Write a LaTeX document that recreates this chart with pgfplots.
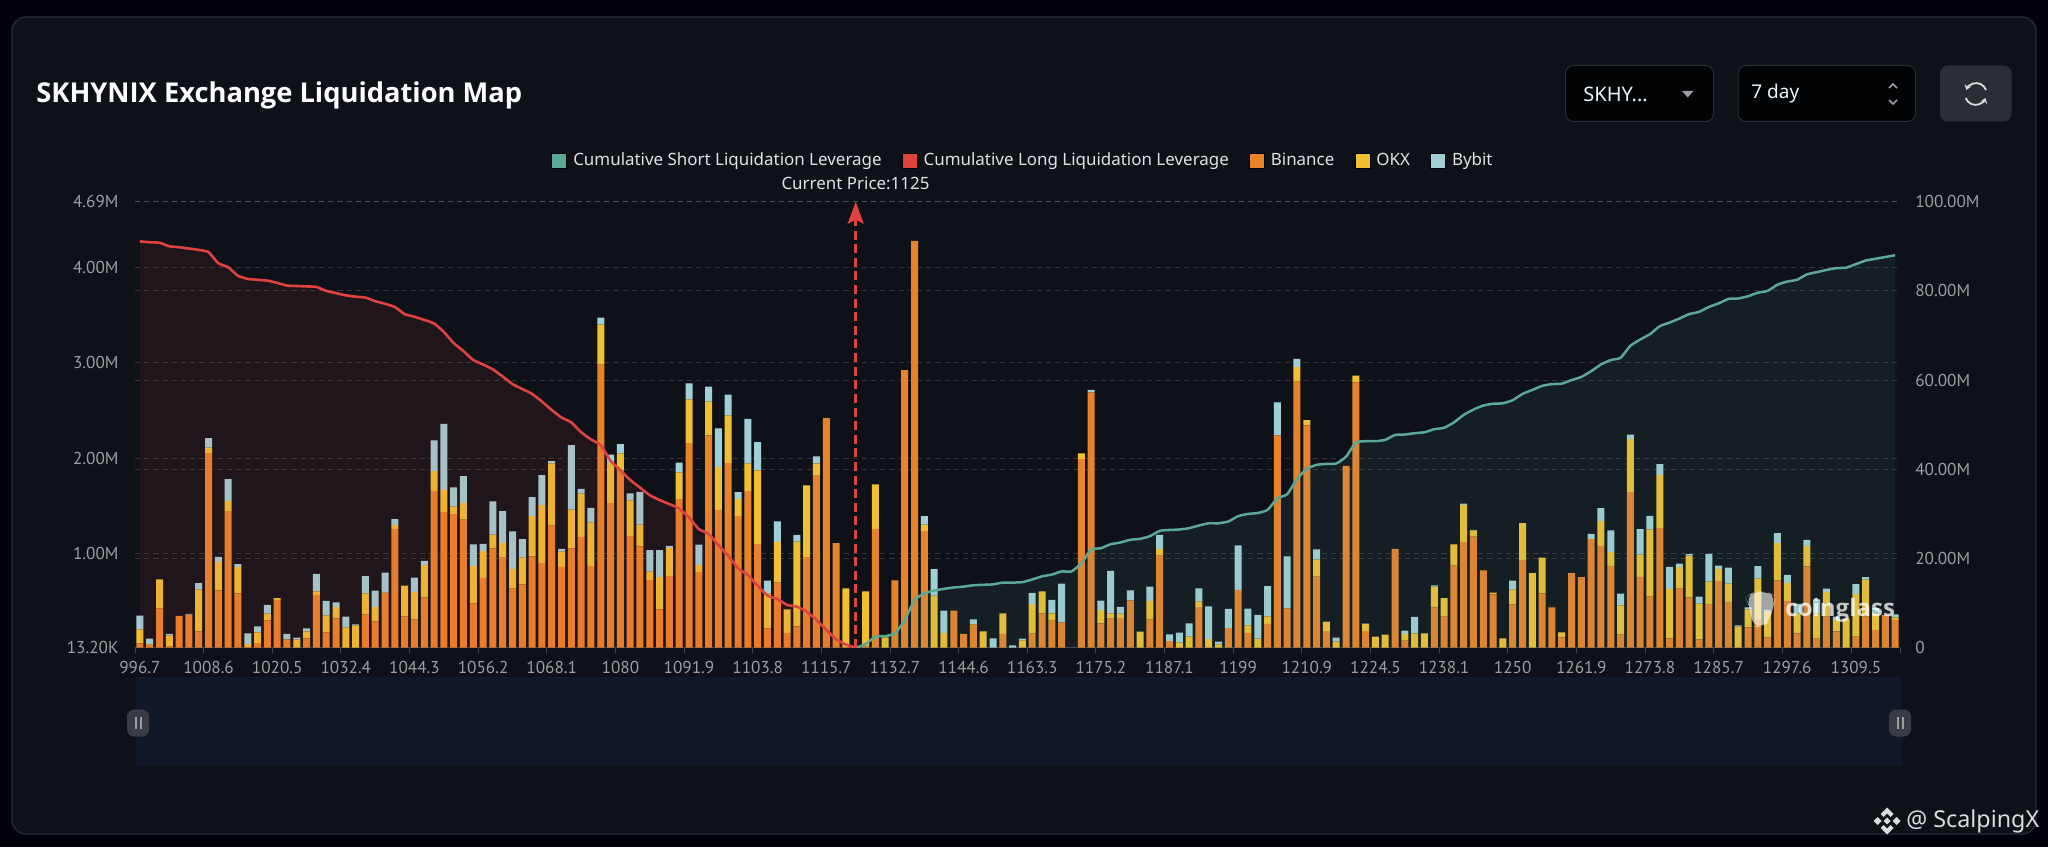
\documentclass[border=0pt]{standalone}
\usepackage{fontspec}
\usepackage{pgfplots}
\usepackage{pgfplotstable}
\pgfplotsset{compat=1.18}
\usetikzlibrary{arrows.meta}
\setmainfont{Noto Sans}
\newfontfamily\din{PT Sans}
\newfontfamily\heavy{Open Sans}
\definecolor{outer}{HTML}{02030A}
\definecolor{panel}{HTML}{0E1118}
\definecolor{edge}{HTML}{2A2D33}
\definecolor{slider}{HTML}{111828}
\definecolor{tick}{HTML}{9C9EA1}
\definecolor{cbin}{HTML}{E9832A}
\definecolor{cokx}{HTML}{F0BF32}
\definecolor{cbyb}{HTML}{A0CFD5}
\definecolor{cred}{HTML}{E0433F}
\definecolor{cgrn}{HTML}{5BA994}

% liquidation per price bin, thousands
\pgfplotstableread{
bin okx byb
59 147 144
41 7 60
426 305 0
24 119 14
346 0 0
360 0 7
185 438 67
2054 56 102
615 298 53
1445 109 228
584 273 32
20 32 112
62 112 63
300 70 91
514 18 0
101 0 56
13 84 21
111 74 32
566 39 182
174 179 151
321 119 49
13 214 112
13 231 14
360 221 182
290 151 172
587 4 210
1259 42 60
342 322 0
311 284 154
542 336 46
1658 207 322
1438 231 690
1413 81 200
1357 172 284
479 389 228
745 280 77
1056 144 347
962 151 333
633 207 392
678 280 193
972 420 200
899 609 315
1294 651 25
860 161 28
1056 406 676
1175 455 49
871 455 154
2981 420 74
1532 417 88
1879 172 98
1182 375 74
1077 228 343
724 88 224
416 336 284
766 294 21
1574 277 102
2159 459 168
808 70 217
2239 354 158
1459 448 406
1952 497 217
1396 179 70
1655 291 466
1102 770 298
216 368 133
696 427 214
167 249 0
237 889 70
962 753 0
1823 123 74
2421 0 0
1109 0 0
20 616 0
0 0 0
24 581 0
1259 466 0
13 109 0
720 0 0
2925 0 0
4280 0 0
1238 67 88
13 546 277
13 154 235
402 0 0
157 0 0
255 7 49
13 172 0
13 0 98
157 217 0
13 0 25
13 77 18
160 312 116
374 231 0
297 77 140
279 0 406
0 0 0
1991 60 0
2691 0 25
269 137 102
318 56 445
325 46 70
510 0 105
13 168 0
307 196 151
979 67 151
83 0 70
13 53 105
13 116 140
440 56 140
13 91 343
13 35 28
220 0 200
619 0 466
167 81 175
13 95 249
262 81 315
2239 0 347
426 0 546
2803 154 84
2344 56 0
759 179 105
188 98 0
13 63 42
1921 0 0
2796 70 0
188 74 4
13 116 0
13 137 0
1049 0 0
87 70 35
13 151 172
13 151 0
437 217 14
339 193 0
874 224 0
1119 392 14
1179 63 7
825 0 0
573 18 0
13 98 0
468 154 95
934 385 0
13 781 0
584 375 0
437 0 0
122 53 0
794 0 0
752 0 0
1151 0 56
1081 259 137
871 144 228
150 308 123
1644 557 46
755 235 266
552 700 144
1266 557 116
111 518 231
633 228 35
542 438 14
101 375 74
465 242 291
713 126 35
486 200 168
13 221 14
227 189 21
304 434 130
122 270 18
720 392 102
503 189 84
164 210 98
867 214 63
108 266 147
339 259 35
185 119 35
13 308 0
129 445 105
339 389 25
199 175 53
356 0 0
304 28 32
}\bars

% cumulative, millions
\pgfplotstableread{
x y
0 91.1
1 90.9
2 90.8
3 90.0
4 89.8
5 89.5
6 89.2
7 88.7
8 86.2
9 85.3
10 83.4
11 82.7
12 82.5
13 82.3
14 81.8
15 81.2
16 81.1
17 81.0
18 80.9
19 80.0
20 79.5
21 79.0
22 78.7
23 78.5
24 77.7
25 77.1
26 76.4
27 74.8
28 74.2
29 73.5
30 72.7
31 70.8
32 68.3
33 66.5
34 64.5
35 63.5
36 62.4
37 60.8
38 59.1
39 58.0
40 56.9
41 55.2
42 53.3
43 51.6
44 50.5
45 48.3
46 46.7
47 45.4
48 41.9
49 39.8
50 37.6
51 35.9
52 34.2
53 33.1
54 32.2
55 31.2
56 29.2
57 26.6
58 25.5
59 23.0
60 20.6
61 17.8
62 16.3
63 13.9
64 11.7
65 10.9
66 9.6
67 9.2
68 8.1
69 6.2
70 4.0
71 1.9
72 0.7
73 0
}\longs

\pgfplotstableread{
x y
73 0
74 0.8
75 2.5
76 2.6
77 3.2
78 6.2
79 10.7
80 12.2
81 12.8
82 13.2
83 13.5
84 13.7
85 14.0
86 14.1
87 14.2
88 14.6
89 14.6
90 14.7
91 15.3
92 16.0
93 16.4
94 17.1
95 17.1
96 18.9
97 22.0
98 22.3
99 23.2
100 23.6
101 24.2
102 24.4
103 25.0
104 26.2
105 26.4
106 26.5
107 26.8
108 27.4
109 27.9
110 27.9
111 28.3
112 29.5
113 30.0
114 30.2
115 30.9
116 33.5
117 34.4
118 37.8
119 40.1
120 41.0
121 41.2
122 41.3
123 42.8
124 46.0
125 46.3
126 46.3
127 46.6
128 47.7
129 47.8
130 48.1
131 48.3
132 49.0
133 49.3
134 50.5
135 52.2
136 53.4
137 54.3
138 54.7
139 54.8
140 55.5
141 56.9
142 57.8
143 58.7
144 59.1
145 59.2
146 60.0
147 60.7
148 62.0
149 63.5
150 64.5
151 65.0
152 67.7
153 69.1
154 70.3
155 72.1
156 72.9
157 73.8
158 74.8
159 75.3
160 76.4
161 77.2
162 78.2
163 78.3
164 78.8
165 79.6
166 80.0
167 81.4
168 82.1
169 82.5
170 83.7
171 84.2
172 84.7
173 85.1
174 85.2
175 86.0
176 86.8
177 87.2
178 87.6
179 88.0
}\shorts

\pgfplotsset{
  base/.style={
    scale only axis, width=882.5pt, height=223pt,
    at={(67.5pt,99.65pt)}, anchor=south west,
    xmin=-0.5, xmax=179.5, clip=true,
  },
  griddash/.style={
    ymajorgrids,
    grid style={draw=white!55!panel, draw opacity=.28, line width=.5pt, dash pattern=on 2.6pt off 2pt},
  },
}

\begin{document}
\begin{tikzpicture}[px/.style={x=0.5pt,y=-0.5pt,shift={(0pt,423.5pt)}}]
\useasboundingbox (0pt,0pt) rectangle (1024pt,423.5pt);
\fill[outer] (0pt,0pt) rectangle (1024pt,423.5pt);
\begin{scope}[px]
  \draw[edge, fill=panel, line width=.6pt, rounded corners=7pt] (12,17) rectangle (2036,834);
  \fill[slider] (136,677) rectangle (1902,766);
  \foreach \hx in {138,1900} {
    \fill[white!18!panel, rounded corners=3.5pt] (\hx-11,709.5) rectangle (\hx+11,736.5);
    \fill[tick] (\hx-3.5,717) rectangle (\hx-1.5,729);
    \fill[tick] (\hx+1.5,717) rectangle (\hx+3.5,729);
  }
  \node[anchor=west, inner sep=0pt, text=white, font=\heavy\fontsize{13.65}{15}\selectfont\bfseries] at (36,95) {SKHYNIX Exchange Liquidation Map};
  % selectors
  \draw[edge, fill=black!85!panel, rounded corners=4pt, line width=.5pt] (1565.5,65.5) rectangle (1713.5,121.5);
  \draw[edge, fill=black!85!panel, rounded corners=4pt, line width=.5pt] (1738,65.5) rectangle (1915.5,121.5);
  \fill[white!12!panel, rounded corners=4pt] (1940,65.5) rectangle (2011.5,121.5);
  \node[anchor=west, inner sep=0pt, text=white!80!cbyb, font=\fontsize{10}{12}\selectfont] at (1583,94) {SKHY...};
  \node[anchor=west, inner sep=0pt, text=white!80!cbyb, font=\fontsize{9.5}{11}\selectfont] at (1751,94) {7 day};
  \fill[tick] (1682,91) -- (1693.5,91) -- (1687.7,97.5) -- cycle;
  \draw[tick, line width=.8pt] (1889,88) -- (1893,84) -- (1897,88);
  \draw[tick, line width=.8pt] (1889,100) -- (1893,104) -- (1897,100);
  \draw[white!85!panel, line width=.9pt, -{Stealth[length=2.5pt,width=3.5pt]}] (1986,90) arc[start angle=-20, end angle=-160, radius=10.5];
  \draw[white!85!panel, line width=.9pt, -{Stealth[length=2.5pt,width=3.5pt]}] (1965.7,98) arc[start angle=160, end angle=20, radius=10.5];
\end{scope}

% right hand scale first, only its grid and labels
\begin{axis}[base, griddash,
  ymin=0, ymax=100,
  axis x line=none, axis y line=right,
  y axis line style={draw=none},
  ytick={0,20,40,60,80,100},
  yticklabels={0,20.00M,40.00M,60.00M,80.00M,100.00M},
  ytick style={draw=none},
  y tick label style={font=\din\fontsize{8.6}{10}\selectfont, text=tick, anchor=west, xshift=2pt},
]
\end{axis}

% bars on the left hand scale
\begin{axis}[base, griddash,
  ybar stacked, bar width=3.5pt,
  ymin=13.2, ymax=4690,
  axis x line=bottom, axis y line=left,
  axis line style={-},
  x axis line style={draw=white!22!panel},
  y axis line style={draw=none},
  xtick={-0.5,6.5,13.5,20.5,27.5,34.5,41.5,48.5,55.5,62.5,69.5,76.5,83.5,90.5,97.5,104.5,111.5,118.5,125.5,132.5,139.5,146.5,153.5,160.5,167.5,174.5,179.5},
  xticklabels={996.7,1008.6,1020.5,1032.4,1044.3,1056.2,1068.1,1080,1091.9,1103.8,1115.7,1132.7,1144.6,1163.3,1175.2,1187.1,1199,1210.9,1224.5,1238.1,1250,1261.9,1273.8,1285.7,1297.6,1309.5,{}},
  x tick label style={font=\din\fontsize{8.6}{10}\selectfont, text=tick, xshift=2.45pt, yshift=-.5pt},
  x tick style={draw=white!22!panel, line width=.5pt},
  major tick length=2.5pt, tick align=outside,
  ytick={13.2,1000,2000,3000,4000,4690},
  yticklabels={13.20K,1.00M,2.00M,3.00M,4.00M,4.69M},
  ytick style={draw=none},
  y tick label style={font=\din\fontsize{8.6}{10}\selectfont, text=tick, anchor=east, xshift=-2.2pt},
]
\addplot[draw=none, fill=cbin] table[x expr=\coordindex, y=bin] {\bars};
\addplot[draw=none, fill=cokx] table[x expr=\coordindex, y=okx] {\bars};
\addplot[draw=none, fill=cbyb] table[x expr=\coordindex, y=byb] {\bars};
\end{axis}

% cumulative curves over the bars
\begin{axis}[base, hide axis,
  ymin=0, ymax=100,
  legend columns=-1,
  legend cell align=left,
  legend image code/.code={\fill[#1] (0pt,-3.75pt) rectangle (7.5pt,3.75pt);},
  legend style={at={(.5037,1.0915)}, anchor=center, draw=none, fill=none,
    text=white!88!panel, font=\fontsize{8.47}{10}\selectfont,
    inner sep=0pt, outer sep=0pt,
    /tikz/every even column/.append style={column sep=8.1pt},
    /tikz/column sep=1pt},
]
\addplot[forget plot, draw=none, fill=cred, fill opacity=.09, smooth, tension=.3] table[x=x,y=y] {\longs} \closedcycle;
\addplot[forget plot, draw=none, fill=cgrn, fill opacity=.09, smooth, tension=.3] table[x=x,y=y] {\shorts} \closedcycle;
\addplot[forget plot, cred, line width=1.3pt, smooth, tension=.3] table[x=x,y=y] {\longs};
\addplot[forget plot, cgrn, line width=1.25pt, smooth, tension=.3] table[x=x,y=y] {\shorts};
\addplot[forget plot, cred, line width=1.35pt, dash pattern=on 4.5pt off 2.3pt, -{Stealth[length=11pt,width=8pt,inset=2pt]}] coordinates {(73,0) (73,100)};
\addlegendimage{fill=cgrn}\addlegendentry{Cumulative Short Liquidation Leverage}
\addlegendimage{fill=cred}\addlegendentry{Cumulative Long Liquidation Leverage}
\addlegendimage{fill=cbin}\addlegendentry{Binance}
\addlegendimage{fill=cokx}\addlegendentry{OKX}
\addlegendimage{fill=cbyb}\addlegendentry{Bybit}
\end{axis}

\begin{scope}[px]
  \node[text=white!88!panel, inner sep=0pt, font=\fontsize{8.47}{10}\selectfont] at (855.5,183) {Current Price:1125};
  % watermark
  \fill[white, fill opacity=.6, rounded corners=5pt] (1745,597) -- (1754,592) -- (1766,591) -- (1777,597) -- (1772,606) -- (1771,620) -- (1762,628) -- (1752,626) -- (1750,606) -- cycle;
  \node[anchor=west, inner sep=0pt, text=white, text opacity=.75, font=\heavy\fontsize{12}{14}\selectfont\bfseries] at (1785,610) {coinglass};
  % reposted by
  \begin{scope}[shift={(1887,821)}, white!85!panel]
    \fill (0,-13.5) -- (6.5,-7) -- (3.5,-4) -- (0,-7.5) -- (-3.5,-4) -- (-6.5,-7) -- cycle;
    \fill (0,13.5) -- (6.5,7) -- (3.5,4) -- (0,7.5) -- (-3.5,4) -- (-6.5,7) -- cycle;
    \fill (-13.5,0) -- (-9.5,-4) -- (-5.5,0) -- (-9.5,4) -- cycle;
    \fill (13.5,0) -- (9.5,-4) -- (5.5,0) -- (9.5,4) -- cycle;
    \fill (0,-3.5) -- (3.5,0) -- (0,3.5) -- (-3.5,0) -- cycle;
  \end{scope}
  \node[anchor=west, inner sep=0pt, text=white!85!panel, font=\fontsize{11.65}{14}\selectfont] at (1906,821) {@ ScalpingX};
\end{scope}
\end{tikzpicture}
\end{document}
